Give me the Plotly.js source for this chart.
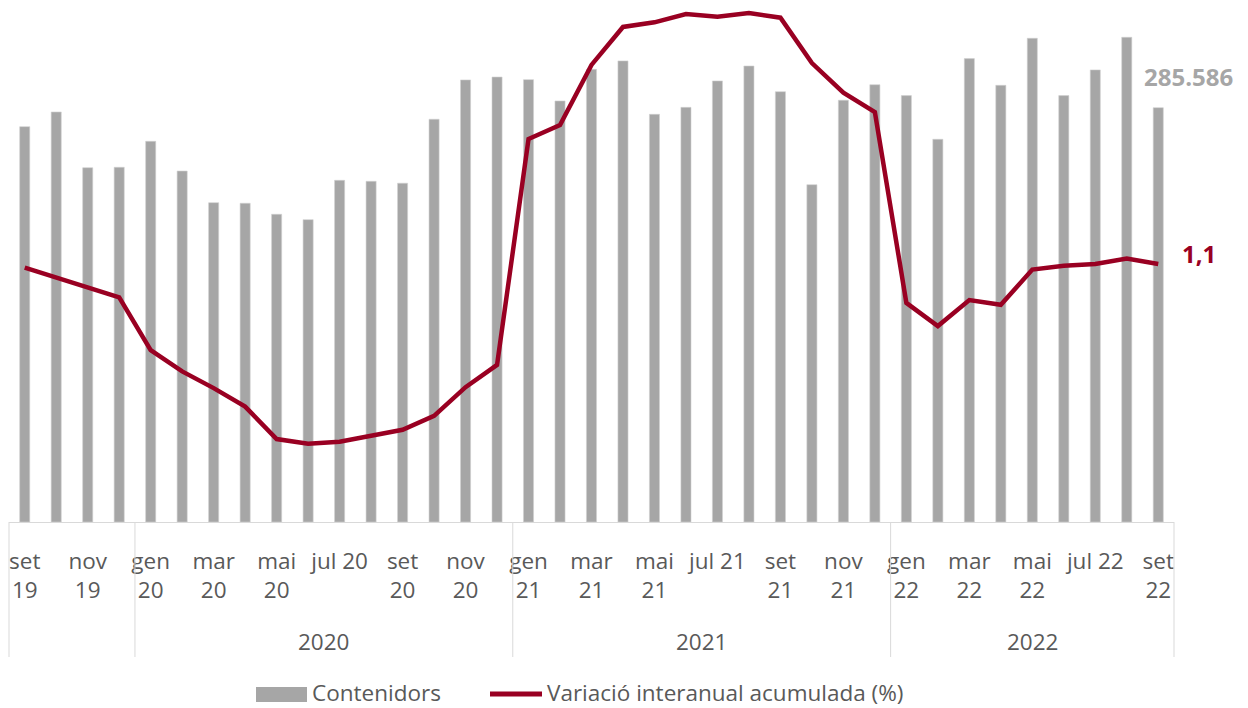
<!DOCTYPE html>
<html>
<head>
<meta charset="utf-8">
<script src="https://cdn.plot.ly/plotly-3.0.1.min.js"></script>
<style>html,body{margin:0;padding:0;background:#fff;}#chart{width:1248px;height:708px;}</style>
</head>
<body>
<div id="chart"></div>
<script>
// ---- data ----
const months = ['set 19','oct 19','nov 19','des 19',
  'gen 20','feb 20','mar 20','abr 20','mai 20','jun 20','jul 20','ago 20','set 20','oct 20','nov 20','des 20',
  'gen 21','feb 21','mar 21','abr 21','mai 21','jun 21','jul 21','ago 21','set 21','oct 21','nov 21','des 21',
  'gen 22','feb 22','mar 22','abr 22','mai 22','jun 22','jul 22','ago 22','set 22'];
const contenidors = [272490, 282600, 244200, 244500,
  262400, 241900, 220100, 219700, 212100, 208400, 235500, 234800, 233500, 277600, 304700, 306700,
  304900, 290200, 312000, 317800, 281000, 285800, 304000, 314300, 296600, 232500, 290700, 301400,
  293900, 263800, 319400, 301000, 333400, 293900, 311600, 334100, 285586];
const variacio = [0.7, -0.4, -1.4, -2.5,
  -8.2, -10.5, -12.3, -14.3, -17.8, -18.3, -18.1, -17.4, -16.8, -15.3, -12.2, -9.8,
  14.6, 16.1, 22.6, 26.7, 27.2, 28.1, 27.8, 28.2, 27.7, 22.8, 19.6, 17.5,
  -3.1, -5.6, -2.8, -3.3, 0.5, 0.9, 1.1, 1.7, 1.1];
const tickMonths = ['set 19','nov 19','gen 20','mar 20','mai 20','jul 20','set 20','nov 20',
  'gen 21','mar 21','mai 21','jul 21','set 21','nov 21','gen 22','mar 22','mai 22','jul 22','set 22'];
const tickTexts = ['set<br>19','nov<br>19','gen<br>20','mar<br>20','mai<br>20','jul 20','set<br>20','nov<br>20',
  'gen<br>21','mar<br>21','mai<br>21','jul 21','set<br>21','nov<br>21','gen<br>22','mar<br>22','mai<br>22','jul 22','set<br>22'];
const yearLabels = ['2020','2021','2022'];
const barName = 'Contenidors';
const lineName = 'Variació interanual acumulada (%)';
const lastBarLabel = '285.586';
const lastLineLabel = '1,1';

// ---- layout helpers ----
const W = 1248, H = 708;
const M = {l: 9, r: 74, t: 10, b: 186};
const PW = W - M.l - M.r, PH = H - M.t - M.b;
const px2x = p => (p - M.l) / PW;
const py2y = p => (H - M.b - p) / PH;

const font = '"Open Sans", "Noto Sans", sans-serif';
const textGrey = '#595959';
const barColor = '#a6a6a6';
const lineColor = '#990022';
const sepColor = '#d9d9d9';
const FS = 22.5;

const n = months.length;
const last = n - 1;

// year group boundaries (where month is 'gen')
const starts = [];
months.forEach((m, i) => { if (m.startsWith('gen')) starts.push(i); });
const shapes = [];
const annotations = [];
[0, 1].forEach(xp => shapes.push({type: 'line', xref: 'paper', yref: 'paper', x0: xp, x1: xp,
  y0: 0, y1: py2y(657), line: {color: sepColor, width: 1}}));
starts.forEach(s => shapes.push({type: 'line', xref: 'x', yref: 'paper', x0: s - 0.5, x1: s - 0.5,
  y0: 0, y1: py2y(657), line: {color: sepColor, width: 1}}));
starts.forEach((s, k) => {
  const e = (k + 1 < starts.length) ? starts[k + 1] - 1 : last;
  annotations.push({xref: 'x', yref: 'paper', x: (s + e) / 2, y: py2y(641),
    text: yearLabels[k], showarrow: false, xanchor: 'center', yanchor: 'middle',
    font: {family: font, size: FS, color: textGrey}});
});
annotations.push({xref: 'x', yref: 'y', x: months[last], y: contenidors[last], text: '<b>' + lastBarLabel + '</b>',
  showarrow: false, xanchor: 'left', yanchor: 'middle', xshift: -16, yshift: 31,
  font: {family: font, size: 24, color: barColor}});
annotations.push({xref: 'x', yref: 'y2', x: months[last], y: variacio[last], text: '<b>' + lastLineLabel + '</b>',
  showarrow: false, xanchor: 'left', yanchor: 'middle', xshift: 22, yshift: 11,
  font: {family: font, size: 24, color: lineColor}});
// custom legend
const legY = 692;
shapes.push({type: 'rect', xref: 'paper', yref: 'paper', x0: px2x(256), x1: px2x(307), y0: py2y(702), y1: py2y(687),
  fillcolor: barColor, line: {width: 0}});
annotations.push({xref: 'paper', yref: 'paper', x: px2x(310), y: py2y(legY), text: barName, showarrow: false,
  xanchor: 'left', yanchor: 'middle', font: {family: font, size: FS, color: textGrey}});
shapes.push({type: 'line', xref: 'paper', yref: 'paper', x0: px2x(490), x1: px2x(542), y0: py2y(694), y1: py2y(694),
  line: {color: lineColor, width: 5}});
annotations.push({xref: 'paper', yref: 'paper', x: px2x(545), y: py2y(legY), text: lineName, showarrow: false,
  xanchor: 'left', yanchor: 'middle', font: {family: font, size: FS, color: textGrey}});

const traces = [
  {type: 'bar', x: months, y: contenidors, name: barName, marker: {color: barColor, line: {color: '#d0d0d0', width: 0.6}},
   yaxis: 'y', hoverinfo: 'x+y'},
  {type: 'scatter', mode: 'lines', x: months, y: variacio, name: lineName, yaxis: 'y2',
   line: {color: lineColor, width: 4.5, shape: 'linear'}, hoverinfo: 'x+y'}
];

const layout = {
  width: W, height: H,
  margin: M,
  paper_bgcolor: '#fff', plot_bgcolor: '#fff',
  showlegend: false,
  bargap: 0.68,
  font: {family: font, color: textGrey},
  xaxis: {type: 'category', range: [-0.5, n - 0.5], showgrid: false, zeroline: false,
    showline: true, linecolor: sepColor, linewidth: 1, ticks: '',
    tickmode: 'array', tickvals: tickMonths, ticktext: tickTexts, tickangle: 0,
    ticklabelstandoff: 19,
    tickfont: {family: font, size: FS, color: textGrey}},
  yaxis: {range: [0, 352900], visible: false, showgrid: false, zeroline: false, fixedrange: true},
  yaxis2: {range: [-26.76, 28.53], overlaying: 'y', side: 'right', visible: false, showgrid: false, zeroline: false},
  shapes: shapes,
  annotations: annotations
};

Plotly.newPlot('chart', traces, layout, {displayModeBar: false, staticPlot: true});
</script>
</body>
</html>
